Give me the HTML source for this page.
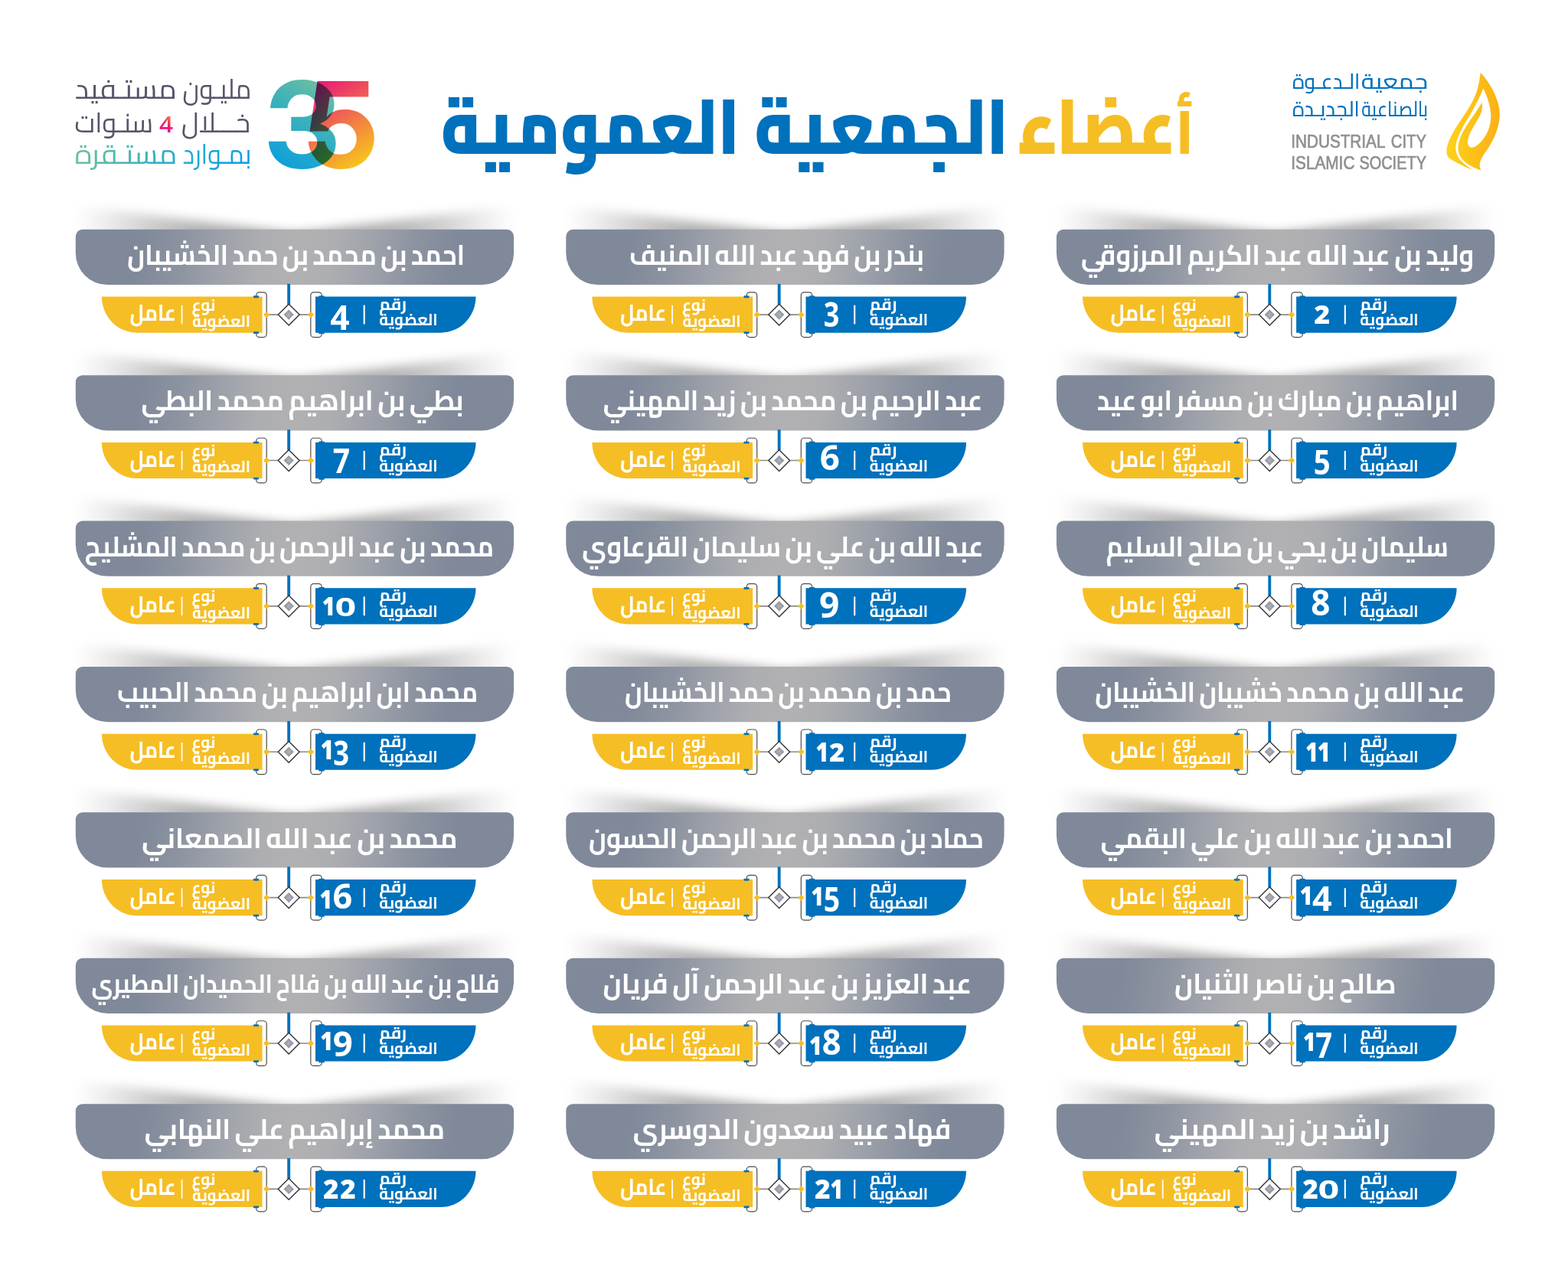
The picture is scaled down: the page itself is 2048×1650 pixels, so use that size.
<!DOCTYPE html>
<html lang="ar">
<head>
<meta charset="utf-8">
<title>أعضاء الجمعية العمومية</title>
<style>
html,body{margin:0;padding:0;background:#fff}
body{width:2048px;height:1650px;overflow:hidden}
svg{display:block;direction:ltr}
text{text-anchor:middle;white-space:pre}
.name{font-family:'Cairo','Noto Kufi Arabic','DejaVu Sans',sans-serif;font-weight:700;fill:#fff;word-spacing:-0.06em;font-feature-settings:'rlig' 0}
.lab{font-family:'Cairo','Noto Kufi Arabic','DejaVu Sans',sans-serif;font-weight:700;font-size:21.8px;fill:#fff}
.typ{font-family:'Cairo','Noto Kufi Arabic','DejaVu Sans',sans-serif;font-weight:700;font-size:29.5px;fill:#fff}
.num{font-family:'Open Sans','Liberation Sans','DejaVu Sans',sans-serif;fill:#fff}
.title{font-family:'Cairo','Noto Kufi Arabic','DejaVu Sans',sans-serif;font-weight:900;font-size:101.3px}
.thin{font-family:'Cairo','Noto Kufi Arabic','DejaVu Sans',sans-serif;font-weight:400;font-size:35.7px}
.org{font-family:'Cairo','Noto Kufi Arabic','DejaVu Sans',sans-serif;font-weight:500;font-size:27.5px;fill:#0071bc}
.eng{font-family:'Liberation Sans','DejaVu Sans',sans-serif;font-weight:400;font-size:24px;fill:#909090;stroke:#909090;stroke-width:0.7px}
.big{font-family:'Be Vietnam Pro','Poppins','Liberation Sans','DejaVu Sans',sans-serif;font-weight:700;font-size:154.3px;mix-blend-mode:multiply}
</style>
</head>
<body>
<svg width="2048" height="1650" viewBox="0 0 2048 1650" role="img" aria-label="أعضاء الجمعية العمومية">
<defs>
<linearGradient id="gbar" gradientUnits="userSpaceOnUse" x1="0" y1="36" x2="572.3" y2="36" gradientTransform="rotate(9 290 36)">
<stop offset="0.147" stop-color="#80899a"/><stop offset="0.24" stop-color="#8c93a0"/><stop offset="0.33" stop-color="#9da1aa"/><stop offset="0.425" stop-color="#adaeb1"/><stop offset="0.505" stop-color="#b1b1b3"/><stop offset="0.585" stop-color="#adaeb1"/><stop offset="0.68" stop-color="#9da1aa"/><stop offset="0.77" stop-color="#8c93a0"/><stop offset="0.86" stop-color="#80899a"/>
</linearGradient>
<radialGradient id="gdia" cx="0.5" cy="0.5" r="0.5"><stop offset="0" stop-color="#b4b4b6"/><stop offset="1" stop-color="#878da0"/></radialGradient>
<linearGradient id="gflame" x1="0" y1="0" x2="1" y2="0"><stop offset="0" stop-color="#fdd21b"/><stop offset="1" stop-color="#fbb016"/></linearGradient>
<linearGradient id="g3" gradientUnits="userSpaceOnUse" x1="440" y1="100" x2="365" y2="220"><stop offset="0" stop-color="#7cc39a"/><stop offset="0.45" stop-color="#3fb2b8"/><stop offset="1" stop-color="#0a9fdc"/></linearGradient>
<linearGradient id="g5" gradientUnits="userSpaceOnUse" x1="415" y1="105" x2="485" y2="215"><stop offset="0" stop-color="#e9147a"/><stop offset="0.5" stop-color="#f1744a"/><stop offset="1" stop-color="#f9d015"/></linearGradient>
<linearGradient id="g4" gradientUnits="userSpaceOnUse" x1="209" y1="172" x2="224" y2="152"><stop offset="0" stop-color="#ec0a86"/><stop offset="0.5" stop-color="#ee1a7c"/><stop offset="1" stop-color="#f58a2a"/></linearGradient>
<linearGradient id="gl3" gradientUnits="userSpaceOnUse" x1="99" y1="0" x2="325" y2="0"><stop offset="0" stop-color="#6fc09a"/><stop offset="0.5" stop-color="#2fb0c4"/><stop offset="1" stop-color="#0a9ee6"/></linearGradient>
<linearGradient id="gsh" gradientUnits="userSpaceOnUse" x1="0" y1="0" x2="286" y2="0"><stop offset="0" stop-color="#000" stop-opacity="0"/><stop offset="0.14" stop-color="#000" stop-opacity="0.07"/><stop offset="0.32" stop-color="#000" stop-opacity="0.18"/><stop offset="0.55" stop-color="#000" stop-opacity="0.3"/><stop offset="1" stop-color="#000" stop-opacity="0.4"/></linearGradient>
<filter id="blur" filterUnits="userSpaceOnUse" x="-60" y="-80" width="420" height="130"><feGaussianBlur stdDeviation="8 7"/></filter>
<g id="shadow">
<path id="shl" d="M0,-31 L287,5 L287,18 L0,18 Z" fill="url(#gsh)" filter="url(#blur)"/>
<use href="#shl" transform="translate(572.3 0) scale(-1 1)"/>
</g>
<path id="bar" d="M9,0H563.3A9,9 0 0 1 572.3,9V30.7A41.5,41.5 0 0 1 530.8,72.2H41.5A41.5,41.5 0 0 1 0,30.7V9A9,9 0 0 1 9,0Z" fill="url(#gbar)"/>
<g id="conn">
<rect x="276.45" y="71" width="3.85" height="27" fill="#0071bc"/>
<rect x="235.9" y="82" width="13.5" height="58.7" rx="4" ry="4" fill="#fff" stroke="#4d4d4d" stroke-width="1.2"/>
<rect x="307" y="82" width="14.4" height="58.7" rx="4" ry="4" fill="#fff" stroke="#4d4d4d" stroke-width="1.2"/>
<line x1="249.4" y1="111.25" x2="307.1" y2="111.25" stroke="#8a8a8a" stroke-width="1.6"/>
<path d="M278.4,97.4 L292.3,111.25 L278.4,125.2 L264.5,111.25 Z" fill="#fff" stroke="#333" stroke-width="1.4" stroke-linejoin="miter"/>
<path d="M278.4,104.65 L285,111.25 L278.4,117.85 L271.8,111.25 Z" fill="url(#gdia)"/>
<rect x="-3" y="-3" width="6" height="6" rx="1" transform="translate(249.4 111.25) rotate(45)" fill="#f6be25"/>
<rect x="-3" y="-3" width="6" height="6" rx="1" transform="translate(307.1 111.25) rotate(45)" fill="#f6be25"/>
</g>
<g id="pills">
<path d="M34.1,87.7 H243.8 V134.85 H80.1 A46,47.15 0 0 1 34.1,87.7 Z" fill="#f6be25"/>
<path d="M313.2,87.7 H522.7 A46,47.15 0 0 1 476.7,134.85 H313.2 Z" fill="#0071bc"/>
<rect x="232" y="86.5" width="7.4" height="2.8" rx="1.4" fill="#0071bc"/>
<rect x="232" y="133.4" width="7.4" height="2.8" rx="1.4" fill="#0071bc"/>
<rect x="317.3" y="86.3" width="7.9" height="3" rx="1.5" fill="#0071bc"/>
<rect x="317.3" y="133.4" width="7.9" height="3" rx="1.5" fill="#0071bc"/>
<rect x="375.85" y="98.8" width="2.1" height="24.8" fill="#fff"/>
<rect x="137.9" y="99" width="1.7" height="24.5" fill="#fff"/>
</g>
</defs>
<rect width="2048" height="1650" fill="#fff"/>

<g id="header">
<g id="logo">
<path transform="translate(1870 85) scale(0.090909)" fill="url(#gflame)" d="M700,108 C760,170 860,300 920,450 C965,570 985,660 975,760 C965,880 910,1040 820,1180 C760,1270 700,1350 690,1420 C685,1460 695,1490 712,1512 C640,1490 520,1440 445,1360 C385,1295 370,1210 385,1130 C405,1030 470,910 540,810 C610,710 680,610 720,535 C735,610 720,670 690,730 C640,830 560,940 530,1030 C505,1105 515,1165 560,1182 C610,1200 690,1130 750,1050 C820,950 855,830 850,720 C845,600 800,450 740,338 C700,440 640,560 560,700 C480,830 400,960 360,1090 C335,1170 340,1260 385,1330 C430,1400 520,1460 605,1515 C500,1470 360,1410 270,1350 C215,1312 205,1270 220,1180 C240,1080 310,950 400,820 C490,690 590,540 640,400 C675,300 690,200 700,108 Z"/>
<text class="org" x="1821.46" y="115.6" textLength="87.27" lengthAdjust="spacingAndGlyphs">جمعية</text>
<text class="org" x="1732.07" y="115.6" textLength="88.24" lengthAdjust="spacingAndGlyphs">الـدعـوة</text>
<text class="org" x="1821.6" y="151.8" textLength="86.82" lengthAdjust="spacingAndGlyphs">بالصناعية</text>
<text class="org" x="1731.82" y="151.8" textLength="87.72" lengthAdjust="spacingAndGlyphs">الجديـدة</text>
<text class="eng" x="1747.84" y="192.8" textLength="123.11" lengthAdjust="spacingAndGlyphs">INDUSTRIAL</text>
<text class="eng" x="1839.92" y="192.8" textLength="46.11" lengthAdjust="spacingAndGlyphs">CITY</text>
<text class="eng" x="1727.84" y="221.3" textLength="83.14" lengthAdjust="spacingAndGlyphs">ISLAMIC</text>
<text class="eng" x="1819.18" y="221.3" textLength="87.6" lengthAdjust="spacingAndGlyphs">SOCIETY</text>
</g>
<text class="title" x="1443.59" y="201" textLength="230.26" lengthAdjust="spacingAndGlyphs" fill="#f6be25"><tspan font-size="79.4">أ</tspan>عضاء</text>
<text class="title" x="946.5" y="201" textLength="741.94" lengthAdjust="spacingAndGlyphs" fill="#0071bc">الجمعية العمومية</text>
<g id="n35" style="isolation:isolate">
<text class="big" x="395" y="218.9" textLength="106.76" lengthAdjust="spacingAndGlyphs" fill="url(#g3)">3</text>
<text class="big" x="445.35" y="218.9" textLength="104.42" lengthAdjust="spacingAndGlyphs" fill="url(#g5)">5</text>
</g>
<g id="slogan">
<text class="thin" x="283.43" y="129.1" textLength="89.68" lengthAdjust="spacingAndGlyphs" fill="#5b5269">مليـون</text>
<text class="thin" x="164.27" y="129.1" textLength="133.14" lengthAdjust="spacingAndGlyphs" fill="#5b5269">مستـفيد</text>
<text class="thin" x="281.99" y="172.6" textLength="90.1" lengthAdjust="spacingAndGlyphs" fill="#5b5269">خـــلال</text>
<text class="thin" x="217.18" y="172.8" textLength="18.18" lengthAdjust="spacingAndGlyphs" fill="url(#g4)" style="font-family:'Open Sans','Liberation Sans','DejaVu Sans',sans-serif;font-size:29.5px;font-weight:600">4</text>
<text class="thin" x="148.68" y="172.6" textLength="102.52" lengthAdjust="spacingAndGlyphs" fill="#5b5269">سنـوات</text>
<text class="thin" x="283.42" y="214.2" textLength="89.61" lengthAdjust="spacingAndGlyphs" fill="url(#gl3)">بمـوارد</text>
<text class="thin" x="164.52" y="214.2" textLength="133.59" lengthAdjust="spacingAndGlyphs" fill="url(#gl3)">مستـقرة</text>
</g>
</g>
<g id="members">
<g class="card" transform="translate(1379.9,299.85)">
<use href="#shadow"/>
<use href="#bar"/>
<text class="name" x="288.7" y="46.2" textLength="513.1" lengthAdjust="spacingAndGlyphs" font-size="37.2">وليد بن عبد الله عبد الكريم المرزوقي</text>
<use href="#conn"/>
<use href="#pills"/>
<text class="lab" x="414.35" y="104.8" textLength="36.03" lengthAdjust="spacingAndGlyphs">رقم</text>
<text class="lab" x="434.6" y="125.3" textLength="76.43" lengthAdjust="spacingAndGlyphs">العضوية</text>
<text class="num" x="346.75" y="123.6" font-size="33.54" font-weight="800" textLength="21" lengthAdjust="spacingAndGlyphs">2</text>
<text class="lab" x="167.2" y="105.8" textLength="31.04" lengthAdjust="spacingAndGlyphs">نوع</text>
<text class="lab" x="190.25" y="126.9" textLength="75.91" lengthAdjust="spacingAndGlyphs">العضوية</text>
<text class="typ" x="100.87" y="119.3" textLength="60.45" lengthAdjust="spacingAndGlyphs">عامل</text>
</g>
<g class="card" transform="translate(739.3,299.85)">
<use href="#shadow"/>
<use href="#bar"/>
<text class="name" x="275.23" y="46.2" textLength="385.07" lengthAdjust="spacingAndGlyphs" font-size="37.2">بندر بن فهد عبد الله المنيف</text>
<use href="#conn"/>
<use href="#pills"/>
<text class="lab" x="414.35" y="104.8" textLength="36.03" lengthAdjust="spacingAndGlyphs">رقم</text>
<text class="lab" x="434.6" y="125.3" textLength="76.43" lengthAdjust="spacingAndGlyphs">العضوية</text>
<text class="num" x="346.64" y="127.55" font-size="45.13" font-weight="700" textLength="20.61" lengthAdjust="spacingAndGlyphs">3</text>
<text class="lab" x="167.2" y="105.8" textLength="31.04" lengthAdjust="spacingAndGlyphs">نوع</text>
<text class="lab" x="190.25" y="126.9" textLength="75.91" lengthAdjust="spacingAndGlyphs">العضوية</text>
<text class="typ" x="100.87" y="119.3" textLength="60.45" lengthAdjust="spacingAndGlyphs">عامل</text>
</g>
<g class="card" transform="translate(98.8,299.85)">
<use href="#shadow"/>
<use href="#bar"/>
<text class="name" x="287.92" y="46.2" textLength="440.9" lengthAdjust="spacingAndGlyphs" font-size="37.2">احمد بن محمد بن حمد الخشيبان</text>
<use href="#conn"/>
<use href="#pills"/>
<text class="lab" x="414.35" y="104.8" textLength="36.03" lengthAdjust="spacingAndGlyphs">رقم</text>
<text class="lab" x="434.6" y="125.3" textLength="76.43" lengthAdjust="spacingAndGlyphs">العضوية</text>
<text class="num" x="345.11" y="130.8" font-size="44.92" font-weight="700" textLength="25.3" lengthAdjust="spacingAndGlyphs">4</text>
<text class="lab" x="167.2" y="105.8" textLength="31.04" lengthAdjust="spacingAndGlyphs">نوع</text>
<text class="lab" x="190.25" y="126.9" textLength="75.91" lengthAdjust="spacingAndGlyphs">العضوية</text>
<text class="typ" x="100.87" y="119.3" textLength="60.45" lengthAdjust="spacingAndGlyphs">عامل</text>
</g>
<g class="card" transform="translate(1379.9,490.23)">
<use href="#shadow"/>
<use href="#bar"/>
<text class="name" x="288.97" y="46.2" textLength="472.05" lengthAdjust="spacingAndGlyphs" font-size="37.2">ابراهيم بن مبارك بن مسفر ابو عيد</text>
<use href="#conn"/>
<use href="#pills"/>
<text class="lab" x="414.35" y="104.8" textLength="36.03" lengthAdjust="spacingAndGlyphs">رقم</text>
<text class="lab" x="434.6" y="125.3" textLength="76.43" lengthAdjust="spacingAndGlyphs">العضوية</text>
<text class="num" x="346.91" y="129.85" font-size="44.99" font-weight="700" textLength="21.95" lengthAdjust="spacingAndGlyphs">5</text>
<text class="lab" x="167.2" y="105.8" textLength="31.04" lengthAdjust="spacingAndGlyphs">نوع</text>
<text class="lab" x="190.25" y="126.9" textLength="75.91" lengthAdjust="spacingAndGlyphs">العضوية</text>
<text class="typ" x="100.87" y="119.3" textLength="60.45" lengthAdjust="spacingAndGlyphs">عامل</text>
</g>
<g class="card" transform="translate(739.3,490.23)">
<use href="#shadow"/>
<use href="#bar"/>
<text class="name" x="296.23" y="46.2" textLength="495.54" lengthAdjust="spacingAndGlyphs" font-size="37.2">عبد الرحيم بن محمد بن زيد المهيني</text>
<use href="#conn"/>
<use href="#pills"/>
<text class="lab" x="414.35" y="104.8" textLength="36.03" lengthAdjust="spacingAndGlyphs">رقم</text>
<text class="lab" x="434.6" y="125.3" textLength="76.43" lengthAdjust="spacingAndGlyphs">العضوية</text>
<text class="num" x="344.46" y="123.95" font-size="44.79" font-weight="700" textLength="26.11" lengthAdjust="spacingAndGlyphs">6</text>
<text class="lab" x="167.2" y="105.8" textLength="31.04" lengthAdjust="spacingAndGlyphs">نوع</text>
<text class="lab" x="190.25" y="126.9" textLength="75.91" lengthAdjust="spacingAndGlyphs">العضوية</text>
<text class="typ" x="100.87" y="119.3" textLength="60.45" lengthAdjust="spacingAndGlyphs">عامل</text>
</g>
<g class="card" transform="translate(98.8,490.23)">
<use href="#shadow"/>
<use href="#bar"/>
<text class="name" x="296.16" y="46.2" textLength="421.11" lengthAdjust="spacingAndGlyphs" font-size="37.2">بطي بن ابراهيم محمد البطي</text>
<use href="#conn"/>
<use href="#pills"/>
<text class="lab" x="414.35" y="104.8" textLength="36.03" lengthAdjust="spacingAndGlyphs">رقم</text>
<text class="lab" x="434.6" y="125.3" textLength="76.43" lengthAdjust="spacingAndGlyphs">العضوية</text>
<text class="num" x="347.13" y="128.1" font-size="45.27" font-weight="700" textLength="22.33" lengthAdjust="spacingAndGlyphs">7</text>
<text class="lab" x="167.2" y="105.8" textLength="31.04" lengthAdjust="spacingAndGlyphs">نوع</text>
<text class="lab" x="190.25" y="126.9" textLength="75.91" lengthAdjust="spacingAndGlyphs">العضوية</text>
<text class="typ" x="100.87" y="119.3" textLength="60.45" lengthAdjust="spacingAndGlyphs">عامل</text>
</g>
<g class="card" transform="translate(1379.9,680.61)">
<use href="#shadow"/>
<use href="#bar"/>
<text class="name" x="288.22" y="46.2" textLength="447.47" lengthAdjust="spacingAndGlyphs" font-size="37.2">سليمان بن يحي بن صالح السليم</text>
<use href="#conn"/>
<use href="#pills"/>
<text class="lab" x="414.35" y="104.8" textLength="36.03" lengthAdjust="spacingAndGlyphs">رقم</text>
<text class="lab" x="434.6" y="125.3" textLength="76.43" lengthAdjust="spacingAndGlyphs">العضوية</text>
<text class="num" x="344.93" y="123.84" font-size="45.89" font-weight="700" textLength="25.12" lengthAdjust="spacingAndGlyphs">8</text>
<text class="lab" x="167.2" y="105.8" textLength="31.04" lengthAdjust="spacingAndGlyphs">نوع</text>
<text class="lab" x="190.25" y="126.9" textLength="75.91" lengthAdjust="spacingAndGlyphs">العضوية</text>
<text class="typ" x="100.87" y="119.3" textLength="60.45" lengthAdjust="spacingAndGlyphs">عامل</text>
</g>
<g class="card" transform="translate(739.3,680.61)">
<use href="#shadow"/>
<use href="#bar"/>
<text class="name" x="283.22" y="46.2" textLength="524.35" lengthAdjust="spacingAndGlyphs" font-size="37.2">عبد الله بن علي بن سليمان القرعاوي</text>
<use href="#conn"/>
<use href="#pills"/>
<text class="lab" x="414.35" y="104.8" textLength="36.03" lengthAdjust="spacingAndGlyphs">رقم</text>
<text class="lab" x="434.6" y="125.3" textLength="76.43" lengthAdjust="spacingAndGlyphs">العضوية</text>
<text class="num" x="343.99" y="126.04" font-size="45.89" font-weight="700" textLength="26.34" lengthAdjust="spacingAndGlyphs">9</text>
<text class="lab" x="167.2" y="105.8" textLength="31.04" lengthAdjust="spacingAndGlyphs">نوع</text>
<text class="lab" x="190.25" y="126.9" textLength="75.91" lengthAdjust="spacingAndGlyphs">العضوية</text>
<text class="typ" x="100.87" y="119.3" textLength="60.45" lengthAdjust="spacingAndGlyphs">عامل</text>
</g>
<g class="card" transform="translate(98.8,680.61)">
<use href="#shadow"/>
<use href="#bar"/>
<text class="name" x="279.04" y="46.2" textLength="534.09" lengthAdjust="spacingAndGlyphs" font-size="37.2">محمد بن عبد الرحمن بن محمد المشليح</text>
<use href="#conn"/>
<use href="#pills"/>
<text class="lab" x="414.35" y="104.8" textLength="36.03" lengthAdjust="spacingAndGlyphs">رقم</text>
<text class="lab" x="434.6" y="125.3" textLength="76.43" lengthAdjust="spacingAndGlyphs">العضوية</text>
<text class="num" x="330.61" y="123.8" font-size="34.07" font-weight="800" textLength="17.11" lengthAdjust="spacingAndGlyphs">1</text>
<text class="num" x="352.51" y="123.96" font-size="34.05" font-weight="700" textLength="27.69" lengthAdjust="spacingAndGlyphs">0</text>
<text class="lab" x="167.2" y="105.8" textLength="31.04" lengthAdjust="spacingAndGlyphs">نوع</text>
<text class="lab" x="190.25" y="126.9" textLength="75.91" lengthAdjust="spacingAndGlyphs">العضوية</text>
<text class="typ" x="100.87" y="119.3" textLength="60.45" lengthAdjust="spacingAndGlyphs">عامل</text>
</g>
<g class="card" transform="translate(1379.9,870.99)">
<use href="#shadow"/>
<use href="#bar"/>
<text class="name" x="291.85" y="46.2" textLength="482.91" lengthAdjust="spacingAndGlyphs" font-size="37.2">عبد الله بن محمد خشيبان الخشيبان</text>
<use href="#conn"/>
<use href="#pills"/>
<text class="lab" x="414.35" y="104.8" textLength="36.03" lengthAdjust="spacingAndGlyphs">رقم</text>
<text class="lab" x="434.6" y="125.3" textLength="76.43" lengthAdjust="spacingAndGlyphs">العضوية</text>
<text class="num" x="333.61" y="123.8" font-size="34.76" font-weight="800" textLength="16.41" lengthAdjust="spacingAndGlyphs">1</text>
<text class="num" x="349.39" y="123.8" font-size="34.76" font-weight="800" textLength="16.83" lengthAdjust="spacingAndGlyphs">1</text>
<text class="lab" x="167.2" y="105.8" textLength="31.04" lengthAdjust="spacingAndGlyphs">نوع</text>
<text class="lab" x="190.25" y="126.9" textLength="75.91" lengthAdjust="spacingAndGlyphs">العضوية</text>
<text class="typ" x="100.87" y="119.3" textLength="60.45" lengthAdjust="spacingAndGlyphs">عامل</text>
</g>
<g class="card" transform="translate(739.3,870.99)">
<use href="#shadow"/>
<use href="#bar"/>
<text class="name" x="289.97" y="46.2" textLength="426.76" lengthAdjust="spacingAndGlyphs" font-size="37.2">حمد بن محمد بن حمد الخشيبان</text>
<use href="#conn"/>
<use href="#pills"/>
<text class="lab" x="414.35" y="104.8" textLength="36.03" lengthAdjust="spacingAndGlyphs">رقم</text>
<text class="lab" x="434.6" y="125.3" textLength="76.43" lengthAdjust="spacingAndGlyphs">العضوية</text>
<text class="num" x="334.59" y="123.8" font-size="34.76" font-weight="800" textLength="16.83" lengthAdjust="spacingAndGlyphs">1</text>
<text class="num" x="353.79" y="123.8" font-size="34.23" font-weight="800" textLength="20.21" lengthAdjust="spacingAndGlyphs">2</text>
<text class="lab" x="167.2" y="105.8" textLength="31.04" lengthAdjust="spacingAndGlyphs">نوع</text>
<text class="lab" x="190.25" y="126.9" textLength="75.91" lengthAdjust="spacingAndGlyphs">العضوية</text>
<text class="typ" x="100.87" y="119.3" textLength="60.45" lengthAdjust="spacingAndGlyphs">عامل</text>
</g>
<g class="card" transform="translate(98.8,870.99)">
<use href="#shadow"/>
<use href="#bar"/>
<text class="name" x="289.87" y="46.2" textLength="470.8" lengthAdjust="spacingAndGlyphs" font-size="37.2">محمد ابن ابراهيم بن محمد الحبيب</text>
<use href="#conn"/>
<use href="#pills"/>
<text class="lab" x="414.35" y="104.8" textLength="36.03" lengthAdjust="spacingAndGlyphs">رقم</text>
<text class="lab" x="434.6" y="125.3" textLength="76.43" lengthAdjust="spacingAndGlyphs">العضوية</text>
<text class="num" x="328.41" y="120.9" font-size="34.76" font-weight="800" textLength="17.11" lengthAdjust="spacingAndGlyphs">1</text>
<text class="num" x="346.89" y="128.75" font-size="45.41" font-weight="700" textLength="20.72" lengthAdjust="spacingAndGlyphs">3</text>
<text class="lab" x="167.2" y="105.8" textLength="31.04" lengthAdjust="spacingAndGlyphs">نوع</text>
<text class="lab" x="190.25" y="126.9" textLength="75.91" lengthAdjust="spacingAndGlyphs">العضوية</text>
<text class="typ" x="100.87" y="119.3" textLength="60.45" lengthAdjust="spacingAndGlyphs">عامل</text>
</g>
<g class="card" transform="translate(1379.9,1061.37)">
<use href="#shadow"/>
<use href="#bar"/>
<text class="name" x="287.73" y="46.2" textLength="460.37" lengthAdjust="spacingAndGlyphs" font-size="37.2">احمد بن عبد الله بن علي البقمي</text>
<use href="#conn"/>
<use href="#pills"/>
<text class="lab" x="414.35" y="104.8" textLength="36.03" lengthAdjust="spacingAndGlyphs">رقم</text>
<text class="lab" x="434.6" y="125.3" textLength="76.43" lengthAdjust="spacingAndGlyphs">العضوية</text>
<text class="num" x="326.19" y="120.8" font-size="34.21" font-weight="800" textLength="16.83" lengthAdjust="spacingAndGlyphs">1</text>
<text class="num" x="347.01" y="128.8" font-size="45.2" font-weight="700" textLength="25.73" lengthAdjust="spacingAndGlyphs">4</text>
<text class="lab" x="167.2" y="105.8" textLength="31.04" lengthAdjust="spacingAndGlyphs">نوع</text>
<text class="lab" x="190.25" y="126.9" textLength="75.91" lengthAdjust="spacingAndGlyphs">العضوية</text>
<text class="typ" x="100.87" y="119.3" textLength="60.45" lengthAdjust="spacingAndGlyphs">عامل</text>
</g>
<g class="card" transform="translate(739.3,1061.37)">
<use href="#shadow"/>
<use href="#bar"/>
<text class="name" x="287.49" y="46.2" textLength="515.59" lengthAdjust="spacingAndGlyphs" font-size="37.2">حماد بن محمد بن عبد الرحمن الحسون</text>
<use href="#conn"/>
<use href="#pills"/>
<text class="lab" x="414.35" y="104.8" textLength="36.03" lengthAdjust="spacingAndGlyphs">رقم</text>
<text class="lab" x="434.6" y="125.3" textLength="76.43" lengthAdjust="spacingAndGlyphs">العضوية</text>
<text class="num" x="328.31" y="121.7" font-size="34.07" font-weight="800" textLength="16.41" lengthAdjust="spacingAndGlyphs">1</text>
<text class="num" x="347.06" y="129.55" font-size="44.85" font-weight="700" textLength="21.35" lengthAdjust="spacingAndGlyphs">5</text>
<text class="lab" x="167.2" y="105.8" textLength="31.04" lengthAdjust="spacingAndGlyphs">نوع</text>
<text class="lab" x="190.25" y="126.9" textLength="75.91" lengthAdjust="spacingAndGlyphs">العضوية</text>
<text class="typ" x="100.87" y="119.3" textLength="60.45" lengthAdjust="spacingAndGlyphs">عامل</text>
</g>
<g class="card" transform="translate(98.8,1061.37)">
<use href="#shadow"/>
<use href="#bar"/>
<text class="name" x="292.51" y="46.2" textLength="412.07" lengthAdjust="spacingAndGlyphs" font-size="37.2">محمد بن عبد الله الصمعاني</text>
<use href="#conn"/>
<use href="#pills"/>
<text class="lab" x="414.35" y="104.8" textLength="36.03" lengthAdjust="spacingAndGlyphs">رقم</text>
<text class="lab" x="434.6" y="125.3" textLength="76.43" lengthAdjust="spacingAndGlyphs">العضوية</text>
<text class="num" x="326.91" y="125.6" font-size="34.07" font-weight="800" textLength="16.41" lengthAdjust="spacingAndGlyphs">1</text>
<text class="num" x="348.51" y="125.45" font-size="44.52" font-weight="700" textLength="25.77" lengthAdjust="spacingAndGlyphs">6</text>
<text class="lab" x="167.2" y="105.8" textLength="31.04" lengthAdjust="spacingAndGlyphs">نوع</text>
<text class="lab" x="190.25" y="126.9" textLength="75.91" lengthAdjust="spacingAndGlyphs">العضوية</text>
<text class="typ" x="100.87" y="119.3" textLength="60.45" lengthAdjust="spacingAndGlyphs">عامل</text>
</g>
<g class="card" transform="translate(1379.9,1251.75)">
<use href="#shadow"/>
<use href="#bar"/>
<text class="name" x="298.8" y="46.2" textLength="289.36" lengthAdjust="spacingAndGlyphs" font-size="37.2">صالح بن ناصر الثنيان</text>
<use href="#conn"/>
<use href="#pills"/>
<text class="lab" x="414.35" y="104.8" textLength="36.03" lengthAdjust="spacingAndGlyphs">رقم</text>
<text class="lab" x="434.6" y="125.3" textLength="76.43" lengthAdjust="spacingAndGlyphs">العضوية</text>
<text class="num" x="330.41" y="121.6" font-size="33.79" font-weight="800" textLength="16.41" lengthAdjust="spacingAndGlyphs">1</text>
<text class="num" x="349.17" y="130.1" font-size="45.98" font-weight="700" textLength="21.78" lengthAdjust="spacingAndGlyphs">7</text>
<text class="lab" x="167.2" y="105.8" textLength="31.04" lengthAdjust="spacingAndGlyphs">نوع</text>
<text class="lab" x="190.25" y="126.9" textLength="75.91" lengthAdjust="spacingAndGlyphs">العضوية</text>
<text class="typ" x="100.87" y="119.3" textLength="60.45" lengthAdjust="spacingAndGlyphs">عامل</text>
</g>
<g class="card" transform="translate(739.3,1251.75)">
<use href="#shadow"/>
<use href="#bar"/>
<text class="name" x="288.89" y="46.2" textLength="481.57" lengthAdjust="spacingAndGlyphs" font-size="37.2">عبد العزيز بن عبد الرحمن آل فريان</text>
<use href="#conn"/>
<use href="#pills"/>
<text class="lab" x="414.35" y="104.8" textLength="36.03" lengthAdjust="spacingAndGlyphs">رقم</text>
<text class="lab" x="434.6" y="125.3" textLength="76.43" lengthAdjust="spacingAndGlyphs">العضوية</text>
<text class="num" x="326.03" y="126.4" font-size="34.07" font-weight="800" textLength="16.69" lengthAdjust="spacingAndGlyphs">1</text>
<text class="num" x="346.88" y="126.74" font-size="45.89" font-weight="700" textLength="24.78" lengthAdjust="spacingAndGlyphs">8</text>
<text class="lab" x="167.2" y="105.8" textLength="31.04" lengthAdjust="spacingAndGlyphs">نوع</text>
<text class="lab" x="190.25" y="126.9" textLength="75.91" lengthAdjust="spacingAndGlyphs">العضوية</text>
<text class="typ" x="100.87" y="119.3" textLength="60.45" lengthAdjust="spacingAndGlyphs">عامل</text>
</g>
<g class="card" transform="translate(98.8,1251.75)">
<use href="#shadow"/>
<use href="#bar"/>
<text class="name" x="287.24" y="45.2" textLength="532.86" lengthAdjust="spacingAndGlyphs" font-size="34.5">فلاح بن عبد الله بن فلاح الحميدان المطيري</text>
<use href="#conn"/>
<use href="#pills"/>
<text class="lab" x="414.35" y="104.8" textLength="36.03" lengthAdjust="spacingAndGlyphs">رقم</text>
<text class="lab" x="434.6" y="125.3" textLength="76.43" lengthAdjust="spacingAndGlyphs">العضوية</text>
<text class="num" x="327.79" y="120.6" font-size="33.79" font-weight="800" textLength="16.83" lengthAdjust="spacingAndGlyphs">1</text>
<text class="num" x="349.02" y="128.65" font-size="45.07" font-weight="700" textLength="26.06" lengthAdjust="spacingAndGlyphs">9</text>
<text class="lab" x="167.2" y="105.8" textLength="31.04" lengthAdjust="spacingAndGlyphs">نوع</text>
<text class="lab" x="190.25" y="126.9" textLength="75.91" lengthAdjust="spacingAndGlyphs">العضوية</text>
<text class="typ" x="100.87" y="119.3" textLength="60.45" lengthAdjust="spacingAndGlyphs">عامل</text>
</g>
<g class="card" transform="translate(1379.9,1442.13)">
<use href="#shadow"/>
<use href="#bar"/>
<text class="name" x="281.82" y="46.2" textLength="307.75" lengthAdjust="spacingAndGlyphs" font-size="37.2">راشد بن زيد المهيني</text>
<use href="#conn"/>
<use href="#pills"/>
<text class="lab" x="414.35" y="104.8" textLength="36.03" lengthAdjust="spacingAndGlyphs">رقم</text>
<text class="lab" x="434.6" y="125.3" textLength="76.43" lengthAdjust="spacingAndGlyphs">العضوية</text>
<text class="num" x="331.69" y="123.9" font-size="34.64" font-weight="800" textLength="20.66" lengthAdjust="spacingAndGlyphs">2</text>
<text class="num" x="355.53" y="123.75" font-size="34.74" font-weight="700" textLength="27.74" lengthAdjust="spacingAndGlyphs">0</text>
<text class="lab" x="167.2" y="105.8" textLength="31.04" lengthAdjust="spacingAndGlyphs">نوع</text>
<text class="lab" x="190.25" y="126.9" textLength="75.91" lengthAdjust="spacingAndGlyphs">العضوية</text>
<text class="typ" x="100.87" y="119.3" textLength="60.45" lengthAdjust="spacingAndGlyphs">عامل</text>
</g>
<g class="card" transform="translate(739.3,1442.13)">
<use href="#shadow"/>
<use href="#bar"/>
<text class="name" x="295.22" y="46.2" textLength="415.43" lengthAdjust="spacingAndGlyphs" font-size="37.2">فهاد عبيد سعدون الدوسري</text>
<use href="#conn"/>
<use href="#pills"/>
<text class="lab" x="414.35" y="104.8" textLength="36.03" lengthAdjust="spacingAndGlyphs">رقم</text>
<text class="lab" x="434.6" y="125.3" textLength="76.43" lengthAdjust="spacingAndGlyphs">العضوية</text>
<text class="num" x="334.99" y="123.9" font-size="34.64" font-weight="800" textLength="20.66" lengthAdjust="spacingAndGlyphs">2</text>
<text class="num" x="353.63" y="123.9" font-size="34.9" font-weight="800" textLength="16.69" lengthAdjust="spacingAndGlyphs">1</text>
<text class="lab" x="167.2" y="105.8" textLength="31.04" lengthAdjust="spacingAndGlyphs">نوع</text>
<text class="lab" x="190.25" y="126.9" textLength="75.91" lengthAdjust="spacingAndGlyphs">العضوية</text>
<text class="typ" x="100.87" y="119.3" textLength="60.45" lengthAdjust="spacingAndGlyphs">عامل</text>
</g>
<g class="card" transform="translate(98.8,1442.13)">
<use href="#shadow"/>
<use href="#bar"/>
<text class="name" x="286.02" y="46.2" textLength="392.02" lengthAdjust="spacingAndGlyphs" font-size="37.2">محمد إبراهيم علي النهابي</text>
<use href="#conn"/>
<use href="#pills"/>
<text class="lab" x="414.35" y="104.8" textLength="36.03" lengthAdjust="spacingAndGlyphs">رقم</text>
<text class="lab" x="434.6" y="125.3" textLength="76.43" lengthAdjust="spacingAndGlyphs">العضوية</text>
<text class="num" x="333.39" y="123.9" font-size="34.64" font-weight="800" textLength="20.44" lengthAdjust="spacingAndGlyphs">2</text>
<text class="num" x="355.62" y="123.9" font-size="34.64" font-weight="800" textLength="20.49" lengthAdjust="spacingAndGlyphs">2</text>
<text class="lab" x="167.2" y="105.8" textLength="31.04" lengthAdjust="spacingAndGlyphs">نوع</text>
<text class="lab" x="190.25" y="126.9" textLength="75.91" lengthAdjust="spacingAndGlyphs">العضوية</text>
<text class="typ" x="100.87" y="119.3" textLength="60.45" lengthAdjust="spacingAndGlyphs">عامل</text>
</g>
</g>
</svg>
</body>
</html>
